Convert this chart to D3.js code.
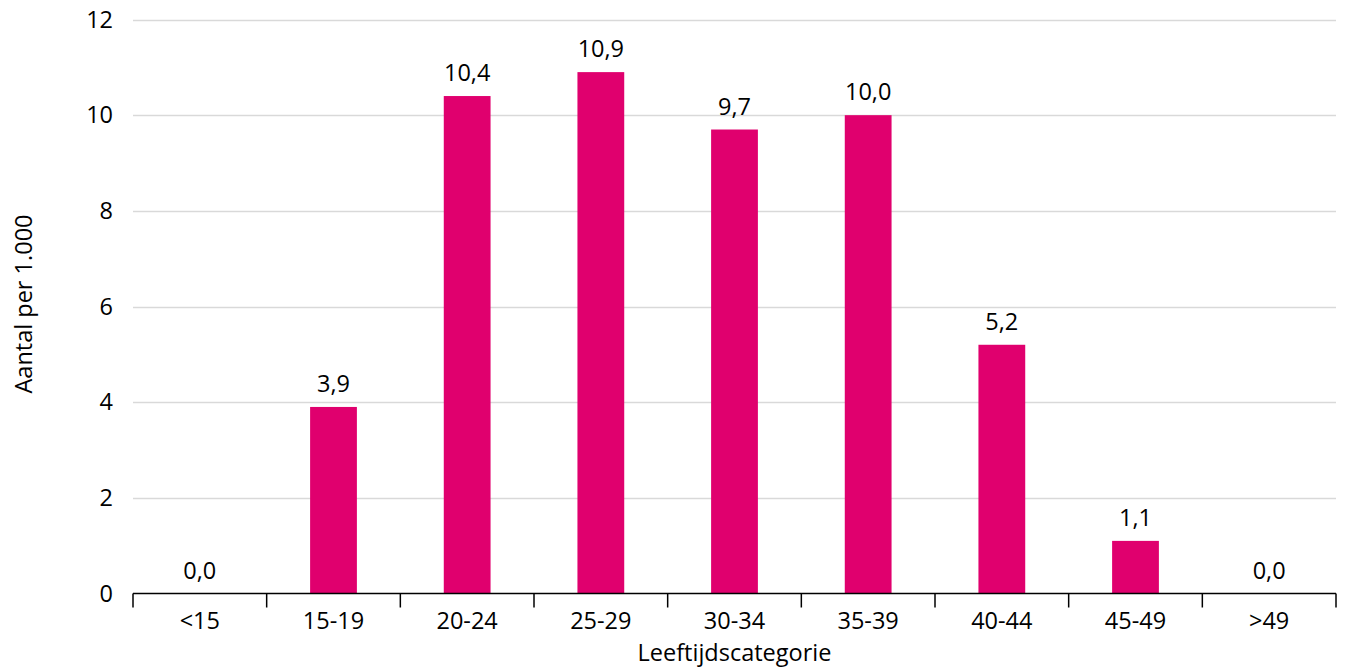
<!DOCTYPE html>
<html>
<head>
<meta charset="utf-8">
<script src="https://cdn.jsdelivr.net/npm/d3@7"></script>
<style>
  body { margin: 0; background: #fff; }
  svg { display: block; font-family: "Open Sans", "Noto Sans", sans-serif; }
</style>
</head>
<body>
<svg id="chart" width="1347" height="670"></svg>
<script>
const categories = ["<15", "15-19", "20-24", "25-29", "30-34", "35-39", "40-44", "45-49", ">49"];
const values = [0.0, 3.9, 10.4, 10.9, 9.7, 10.0, 5.2, 1.1, 0.0];
const yTicks = [0, 2, 4, 6, 8, 10, 12];
const yTitle = "Aantal per 1.000";
const xTitle = "Leeftijdscategorie";

const FS = 23.5;
const svg = d3.select("#chart");
const margin = { left: 133, right: 11, top: 19.5, bottom: 76.5 };
const W = 1347, H = 670;
const x = d3.scaleBand().domain(categories).range([margin.left, W - margin.right]).paddingInner(0.65).paddingOuter(0.325);
const xb = d3.scaleBand().domain(categories).range([margin.left, W - margin.right]);
const y = d3.scaleLinear().domain([0, 12]).range([H - margin.bottom, margin.top]);
const fmt = v => v.toFixed(1).replace(".", ",");

// gridlines
svg.append("g").selectAll("line").data(yTicks.filter(d => d > 0)).join("line")
  .attr("x1", margin.left).attr("x2", W - margin.right)
  .attr("y1", d => Math.round(y(d)) + 0.5).attr("y2", d => Math.round(y(d)) + 0.5)
  .attr("stroke", "#d9d9d9").attr("stroke-width", 1.5);

// y labels
svg.append("g").selectAll("text").data(yTicks).join("text")
  .attr("x", margin.left - 20).attr("y", d => y(d)).attr("dy", "0.35em")
  .attr("text-anchor", "end").attr("font-size", FS).attr("fill", "#000")
  .text(d => d);

// bars
svg.append("g").selectAll("rect").data(values).join("rect")
  .attr("x", (d, i) => x(categories[i])).attr("width", x.bandwidth())
  .attr("y", d => y(d)).attr("height", d => y(0) - y(d))
  .attr("fill", "#e0006e");

// value labels
svg.append("g").selectAll("text").data(values).join("text")
  .attr("x", (d, i) => x(categories[i]) + x.bandwidth() / 2)
  .attr("y", d => y(d) - 15)
  .attr("text-anchor", "middle").attr("font-size", FS).attr("fill", "#000")
  .text(d => fmt(d));

// x axis
const xAxis = svg.append("g");
xAxis.append("line")
  .attr("x1", margin.left).attr("x2", W - margin.right)
  .attr("y1", y(0)).attr("y2", y(0)).attr("stroke", "#000").attr("stroke-width", 1.5);
const bounds = categories.map(c => xb(c)).concat([W - margin.right]);
xAxis.selectAll("line.tick").data(bounds).join("line").attr("class", "tick")
  .attr("x1", d => d).attr("x2", d => d)
  .attr("y1", y(0)).attr("y2", y(0) + 14).attr("stroke", "#000").attr("stroke-width", 1.5);
xAxis.selectAll("text").data(categories).join("text")
  .attr("x", d => xb(d) + xb.bandwidth() / 2).attr("y", y(0) + 35)
  .attr("text-anchor", "middle").attr("font-size", FS).attr("fill", "#000")
  .text(d => d);

// titles
svg.append("text")
  .attr("x", (margin.left + W - margin.right) / 2).attr("y", 661)
  .attr("text-anchor", "middle").attr("font-size", FS).attr("fill", "#000")
  .text(xTitle);
svg.append("text")
  .attr("transform", `translate(32, 304) rotate(-90)`)
  .attr("text-anchor", "middle").attr("font-size", FS).attr("fill", "#000")
  .text(yTitle);
</script>
</body>
</html>
